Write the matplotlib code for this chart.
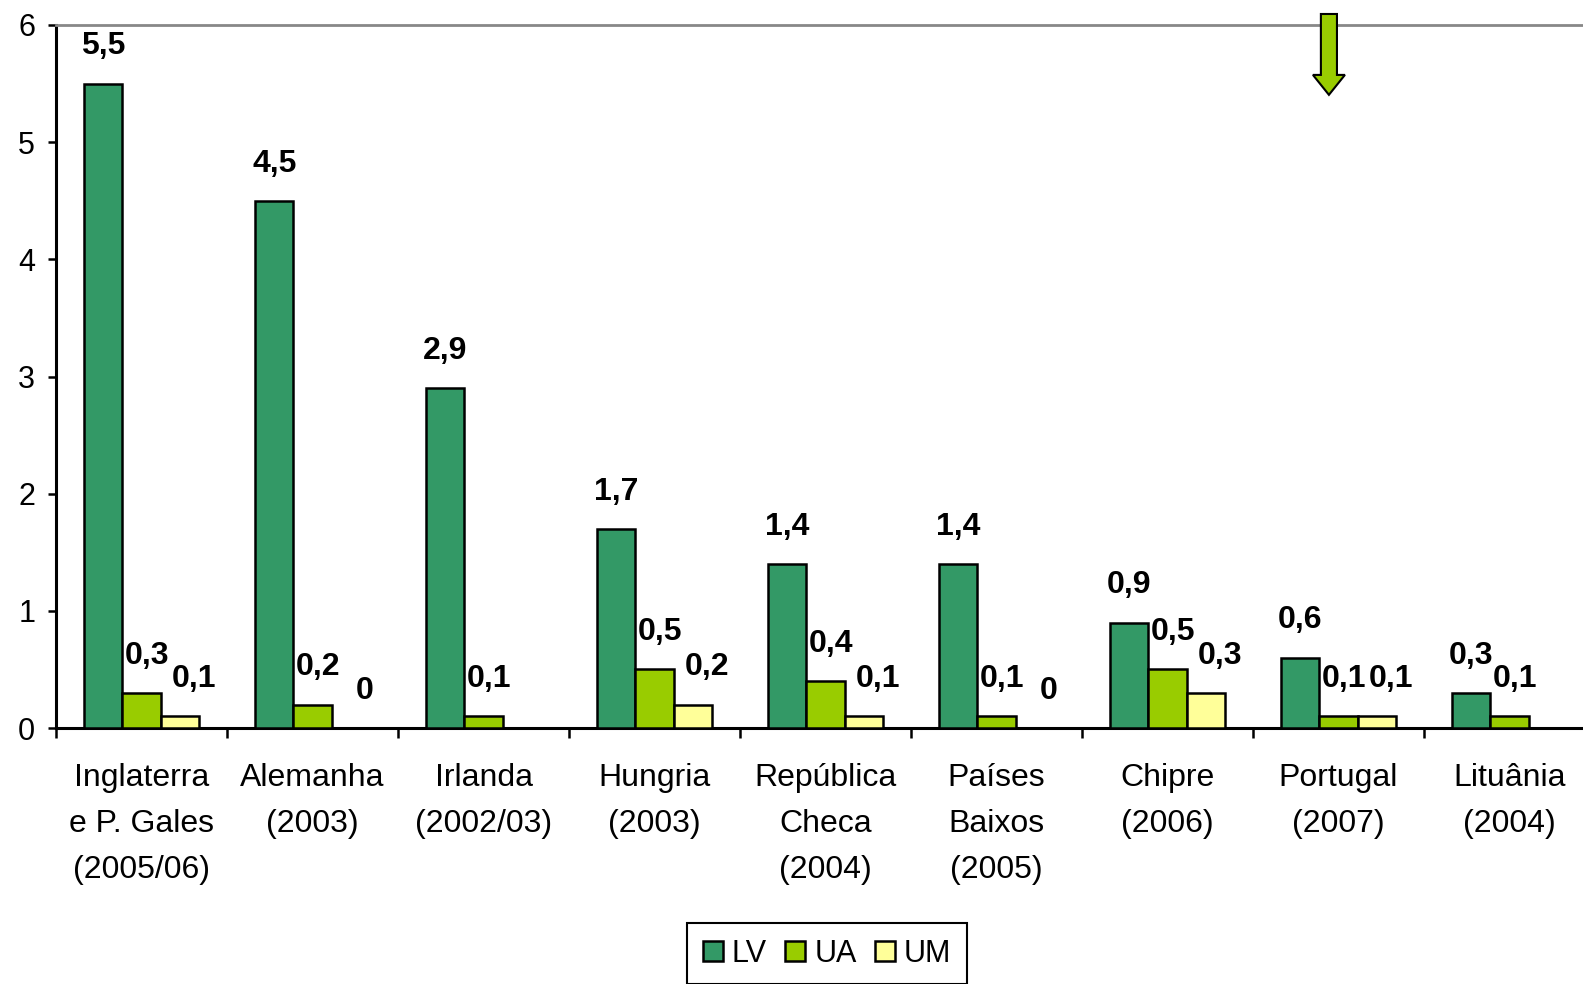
import matplotlib
matplotlib.use("Agg")
import matplotlib.pyplot as plt
import numpy as np
from matplotlib.patches import FancyArrow

plt.rcParams['font.family'] = ['Liberation Sans', 'DejaVu Sans']

# data
categories = ["Inglaterra\ne P. Gales\n(2005/06)", "Alemanha\n(2003)", "Irlanda\n(2002/03)",
              "Hungria\n(2003)", "República\nCheca\n(2004)", "Países\nBaixos\n(2005)",
              "Chipre\n(2006)", "Portugal\n(2007)", "Lituânia\n(2004)"]
lv = [5.5, 4.5, 2.9, 1.7, 1.4, 1.4, 0.9, 0.6, 0.3]
ua = [0.3, 0.2, 0.1, 0.5, 0.4, 0.1, 0.5, 0.1, 0.1]
um = [0.1, 0.0, np.nan, 0.2, 0.1, 0.0, 0.3, 0.1, np.nan]
series_names = ["LV", "UA", "UM"]
colors = ["#339966", "#99cc00", "#ffff99"]

W, H = 1583, 984
fig = plt.figure(figsize=(W / 100, H / 100), dpi=100)
ax = fig.add_axes([56 / W, (H - 728) / H, 9 * 171 / W, 703 / H])

x = np.arange(len(categories))
w = 0.224
label_dx = [0, 4, 10]  # small nudges like excel does

for k, (vals, name, col) in enumerate(zip([lv, ua, um], series_names, colors)):
    xs = x + (k - 1) * w
    ax.bar(xs, vals, w, color=col, edgecolor='black', linewidth=1.8, label=name, zorder=3)
    for xi, v in zip(xs, vals):
        if np.isnan(v):
            continue
        ax.annotate(f"{v:g}".replace('.', ','), (xi, v), xytext=(label_dx[k], 16),
                    textcoords='offset points', ha='center', va='bottom',
                    fontsize=23, fontweight='bold', zorder=4)

ax.set_xlim(-0.5, len(categories) - 0.5)
ax.set_ylim(0, 6)
ax.set_yticks(range(7))
ax.set_xticks(x, categories, linespacing=1.7)
ax.set_xticks(np.arange(-0.5, len(categories), 1), minor=True)
ax.tick_params(axis='x', which='major', length=0, pad=25, labelsize=23)
ax.tick_params(axis='x', which='minor', length=7, width=1.8, direction='out')
ax.tick_params(axis='y', length=6, width=1.8, pad=9, labelsize=22)

for s in ['left', 'bottom']:
    ax.spines[s].set_linewidth(2.2)
ax.spines['top'].set_color('#888888')
ax.spines['top'].set_linewidth(2)
ax.spines['right'].set_visible(False)

# arrow pointing at Portugal
arrow = FancyArrow(6.944, 6.094, 0, -0.69, width=0.094, head_width=0.187, head_length=0.17,
                   length_includes_head=True, fc='#99cc00', ec='black', lw=1.5,
                   clip_on=False, zorder=5)
ax.add_patch(arrow)

leg = fig.legend(loc='upper center', bbox_to_anchor=(827 / W, (H - 908) / H), ncol=3,
                 fontsize=22, frameon=True, fancybox=False, edgecolor='black',
                 handlelength=0.65, handleheight=0.65, handletextpad=0.3,
                 columnspacing=0.6, borderpad=0.5, framealpha=1)
leg.get_frame().set_linewidth(1.5)

fig.savefig("out.png", dpi=100)
